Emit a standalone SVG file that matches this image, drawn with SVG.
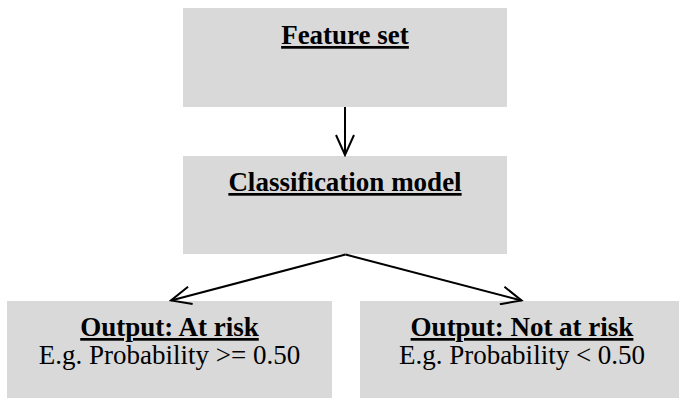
<svg xmlns="http://www.w3.org/2000/svg" width="679" height="398" viewBox="0 0 679 398">
  <style>
    .box { fill: #d9d9d9; stroke: none; }
    .t { font-family: "Liberation Serif", "Times New Roman", serif; font-size: 27px; fill: #000; text-anchor: middle; }
    .b { font-weight: bold; text-decoration: underline; text-decoration-thickness: 2px; text-underline-offset: 5px; }
    .c { fill: none; stroke: #000; stroke-width: 2; }
  </style>
  <defs>
    <marker id="arr" viewBox="0 0 24 20" refX="22" refY="10" markerWidth="24" markerHeight="20" markerUnits="userSpaceOnUse" orient="auto">
      <path d="M2,1 L22,10 L2,19" fill="none" stroke="#000" stroke-width="2" stroke-linejoin="miter"/>
    </marker>
  </defs>
  <rect width="679" height="398" fill="#fff"/>
  <g id="feature-set">
    <rect class="box" x="183" y="8" width="324" height="99"/>
    <text class="t b" x="345" y="44">Feature set</text>
  </g>
  <g id="classification-model">
    <rect class="box" x="183" y="156" width="324" height="98"/>
    <text class="t b" x="345" y="191">Classification model</text>
  </g>
  <g id="output-at-risk">
    <rect class="box" x="7" y="301" width="325" height="97"/>
    <text class="t b" x="169.5" y="336">Output: At risk</text>
    <text class="t" x="169.5" y="364">E.g. Probability &gt;= 0.50</text>
  </g>
  <g id="output-not-at-risk">
    <rect class="box" x="360" y="301" width="325" height="97"/>
    <text class="t b" x="522" y="336">Output: Not at risk</text>
    <text class="t" x="522" y="364">E.g. Probability &lt; 0.50</text>
  </g>
  <g id="connectors">
    <line class="c" x1="345" y1="107" x2="345" y2="155" marker-end="url(#arr)"/>
    <line class="c" x1="345.5" y1="254.5" x2="171" y2="300.5" marker-end="url(#arr)"/>
    <line class="c" x1="345.5" y1="254.5" x2="521.5" y2="300.5" marker-end="url(#arr)"/>
  </g>
</svg>
